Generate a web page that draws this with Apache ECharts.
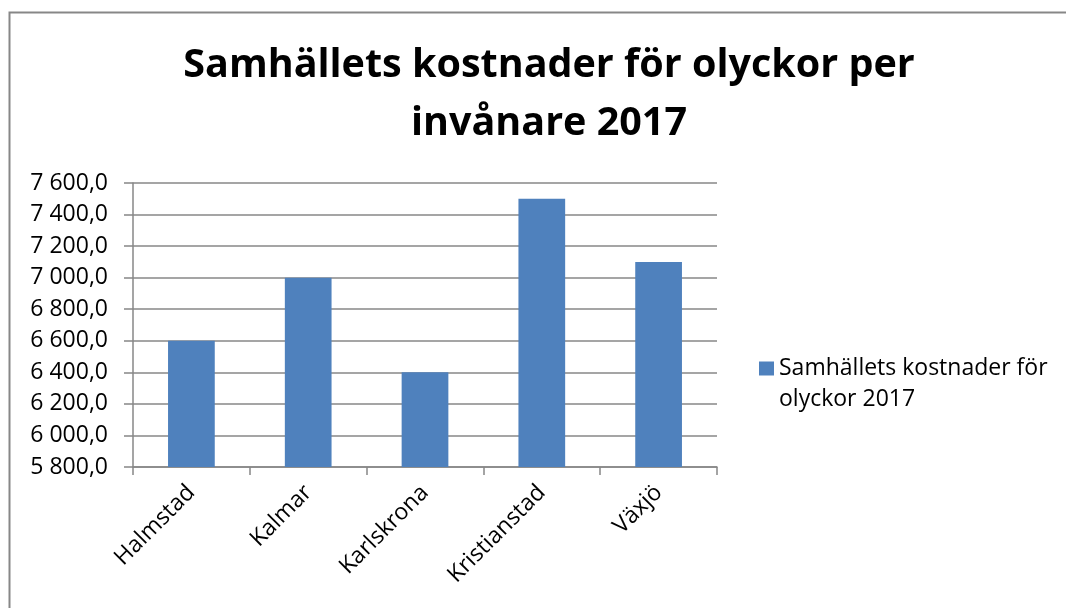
<!DOCTYPE html>
<html>
<head>
<meta charset="utf-8">
<script src="https://cdn.jsdelivr.net/npm/echarts@6/dist/echarts.min.js"></script>
<style>
  html, body { margin: 0; padding: 0; background: #fff; }
  #chart { width: 1066px; height: 608px; }
</style>
</head>
<body>
<div id="chart"></div>
<script>
// data
var cities = ["Halmstad", "Kalmar", "Karlskrona", "Kristianstad", "Växjö"];
var costs = [6600, 7000, 6400, 7500, 7100];
var seriesName = "Samhällets kostnader för olyckor 2017";
var titleText = "Samhällets kostnader för olyckor per\ninvånare 2017";
var yMin = 5800, yMax = 7600, yStep = 200;

var font = "'Open Sans', 'Liberation Sans', sans-serif";
var gridColor = "#878787";

// 7600 -> "7 600,0"
function fmt(v) {
  var s = Math.round(v).toString().replace(/\B(?=(\d{3})+(?!\d))/g, " ");
  return s + ",0";
}

var chart = echarts.init(document.getElementById("chart"));
var option = {
  animation: false,
  backgroundColor: "#fff",
  textStyle: { fontFamily: font, color: "#000" },
  graphic: [{
    type: "rect",
    shape: { x: 9.5, y: 12.5, width: 1100, height: 700 },
    style: { fill: null, stroke: gridColor, lineWidth: 2 },
    silent: true
  }],
  title: {
    text: titleText,
    left: 544,
    textAlign: "center",
    top: 32,
    textStyle: {
      fontFamily: font,
      fontSize: 39.5,
      fontWeight: "bold",
      color: "#000",
      lineHeight: 58
    }
  },
  legend: {
    data: [seriesName],
    left: 759,
    top: 322,
    padding: 0,
    itemWidth: 15,
    itemHeight: 14,
    itemGap: 0,
    icon: "rect",
    // blank first line keeps the icon level with the first text line
    formatter: function () { return " \nSamhällets kostnader för\nolyckor 2017"; },
    textStyle: {
      fontFamily: font,
      fontSize: 23,
      color: "#000",
      lineHeight: 31
    }
  },
  grid: { left: 133, right: 349, top: 183, bottom: 141 },
  xAxis: {
    type: "category",
    data: cities,
    axisLine: { lineStyle: { color: gridColor, width: 1.5 } },
    axisTick: { show: true, length: 8, lineStyle: { color: gridColor, width: 1.5 } },
    axisLabel: {
      rotate: 45,
      margin: 22,
      fontFamily: font,
      fontSize: 23,
      color: "#000",
      interval: 0
    }
  },
  yAxis: {
    type: "value",
    min: yMin,
    max: yMax,
    interval: yStep,
    axisLine: { show: true, lineStyle: { color: gridColor, width: 1.5 } },
    axisTick: { show: true, length: 9, lineStyle: { color: gridColor, width: 1.5 } },
    splitLine: { lineStyle: { color: gridColor, width: 1.5 } },
    axisLabel: {
      margin: 25,
      fontFamily: font,
      fontSize: 23,
      color: "#000",
      formatter: fmt
    }
  },
  series: [{
    name: seriesName,
    type: "bar",
    data: costs,
    barWidth: "40%",
    itemStyle: { color: "#4F81BD" }
  }]
};
chart.setOption(option);
</script>
</body>
</html>
